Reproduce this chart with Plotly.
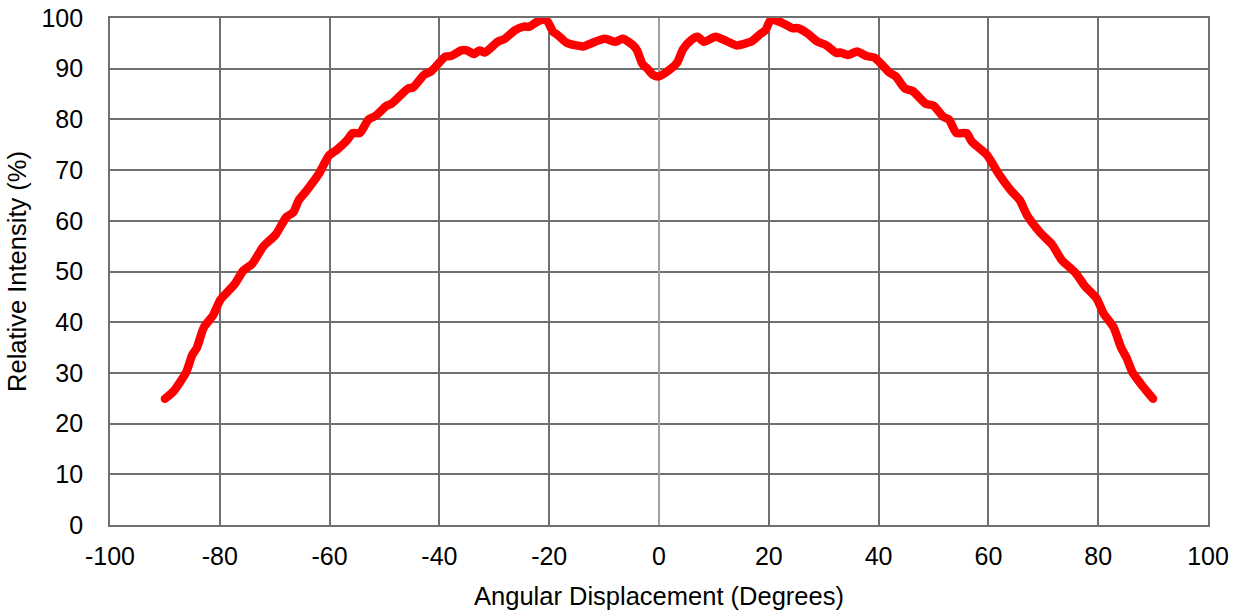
import plotly.graph_objects as go

angle = [-90.0, -88.4, -86.1, -85.0, -84.2, -82.9, -81.2, -79.9, -77.3, -75.7, -74.1, -72.1,
         -69.8, -67.9, -66.6, -65.6, -64.3, -62.0, -60.1, -58.8, -56.8, -55.8, -54.5, -52.9,
         -51.6, -49.6, -48.7, -45.7, -44.8, -42.8, -41.5, -38.9, -37.9, -36.0, -35.0, -33.7,
         -32.7, -31.7, -29.4, -28.1, -26.2, -24.6, -23.6, -22.3, -21.0, -20.3, -19.3, -18.4,
         -16.8, -13.8, -12.8, -9.9, -7.9, -6.6, -4.7, -4.0, -3.0, -2.1, -1.1, 0.0,
         1.95, 3.3, 4.4, 5.8, 7.0, 8.2, 10.3, 12.4, 14.1, 16.9, 18.3, 19.4, 20.4, 22.5,
         24.3, 25.3, 27.0, 28.8, 30.5, 32.3, 33.0, 34.4, 36.1, 37.8, 39.2, 40.6, 42.0,
         43.1, 44.8, 46.2, 48.6, 50.0, 51.8, 52.8, 54.2, 56.0, 57.0, 59.8, 61.9, 64.0,
         65.7, 67.1, 69.5, 71.6, 73.4, 75.8, 77.6, 79.7, 81.0, 82.8, 84.2, 85.2, 86.2,
         88.0, 90.0]
intensity = [24.9, 26.4, 30.2, 33.6, 34.9, 39.0, 41.4, 44.4, 47.5, 50.2, 51.5, 54.9,
             57.3, 60.7, 61.7, 64.1, 65.8, 69.2, 72.9, 73.9, 75.9, 77.3, 77.3, 80.0,
             80.7, 82.7, 83.1, 86.1, 86.3, 88.8, 89.5, 92.4, 92.5, 93.6, 93.6, 92.9,
             93.6, 93.2, 95.3, 95.9, 97.6, 98.3, 98.3, 99.2, 99.7, 99.3, 97.3, 96.6,
             95.1, 94.4, 94.8, 95.9, 95.3, 95.9, 94.6, 93.6, 90.9, 90.0, 88.8, 88.5,
             89.8, 91.2, 93.9, 95.6, 96.3, 95.3, 96.3, 95.4, 94.6, 95.4, 96.7, 97.6, 99.7, 99.0,
             98.0, 98.0, 97.0, 95.4, 94.6, 93.1, 93.2, 92.7, 93.4, 92.5, 92.2, 90.8, 89.2,
             88.5, 86.1, 85.6, 83.1, 82.7, 80.5, 80.0, 77.3, 77.3, 75.6, 72.9, 69.2, 66.1,
             64.1, 61.0, 57.6, 55.3, 52.2, 49.8, 47.1, 44.7, 41.7, 39.0, 34.9, 32.9, 30.2,
             27.5, 24.9]

x_ticks = [-100, -80, -60, -40, -20, 0, 20, 40, 60, 80, 100]
y_ticks = [0, 10, 20, 30, 40, 50, 60, 70, 80, 90, 100]

GRID = "#707070"
FONT = "Liberation Sans, Arial, sans-serif"

fig = go.Figure()
fig.add_trace(go.Scatter(
    x=angle, y=intensity, mode="lines",
    line=dict(color="#ff0000", width=8.5, shape="spline", smoothing=0.6),
    showlegend=False, hoverinfo="skip",
))

fig.update_layout(
    width=1246, height=612,
    margin=dict(l=110, r=38, t=18, b=87, autoexpand=False),
    paper_bgcolor="white", plot_bgcolor="white",
    font=dict(family=FONT, size=25, color="#000000"),
)
fig.update_xaxes(
    automargin=False,
    range=[-100, 100], tickvals=x_ticks, ticktext=[str(v) for v in x_ticks],
    showgrid=True, gridcolor=GRID, gridwidth=1.5,
    zeroline=True, zerolinecolor="#a0a0a0", zerolinewidth=1.5,
    showline=True, linecolor=GRID, linewidth=1.7, mirror=True,
    ticks="outside", ticklen=8, tickcolor="rgba(0,0,0,0)",
    tickfont=dict(size=25, family=FONT),
    title=dict(text="Angular Displacement (Degrees)", font=dict(size=25.5, family=FONT), standoff=18),
)
fig.update_yaxes(
    automargin=False,
    range=[0, 100], tickvals=y_ticks, ticktext=[str(v) for v in y_ticks],
    showgrid=True, gridcolor=GRID, gridwidth=1.5,
    zeroline=False,
    showline=True, linecolor=GRID, linewidth=1.7, mirror=True,
    ticks="outside", ticklen=20, tickcolor="rgba(0,0,0,0)",
    tickfont=dict(size=25, family=FONT),
    title=dict(text="Relative Intensity (%)", font=dict(size=25.5, family=FONT), standoff=8),
)

post = (
    "document.body.style.margin='0';"
    "document.querySelectorAll('.scatterlayer path.js-line').forEach(function(p){"
    "p.style.strokeLinecap='round';p.style.strokeLinejoin='round';});"
)
fig.write_html("out.html", config={"displayModeBar": False}, post_script=post)
